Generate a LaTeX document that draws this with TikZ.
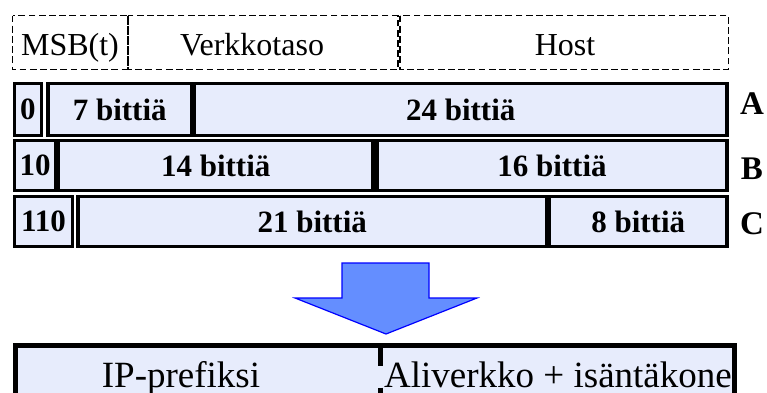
\documentclass[tikz,border=0pt]{standalone}
\usepackage{fontspec}
\setmainfont{Liberation Serif}
\definecolor{cellblue}{RGB}{231,236,252}
\definecolor{arrowblue}{RGB}{100,142,255}
\def\picw{767}
\def\pich{392}
\tikzset{
  cell/.style={draw=black,line width=1.6pt,fill=cellblue},
  field/.style={draw=black,line width=0.9pt,dash pattern=on 3.4pt off 1.7pt},
  bits/.style={font=\fontsize{15.5}{18}\selectfont\bfseries},
  plain/.style={font=\fontsize{16}{19}\selectfont},
  bigtext/.style={font=\fontsize{18.5}{22}\selectfont},
  klass/.style={font=\fontsize{16.5}{19}\selectfont\bfseries},
}
\begin{document}
\begin{tikzpicture}[x=0.5pt,y=-0.5pt]
\useasboundingbox (0,0) rectangle (\picw,\pich);
\clip (0,0) rectangle (\picw,\pich);

%dashed field names
\foreach \xa/\xb/\tx/\txt/\nm in {12.5/128/70/MSB(t)/msb, 128/398/252/Verkkotaso/net, 400/728.5/565/Host/host}{
   \draw[field] (\xa,15.5) rectangle (\xb,69.5);
   \node[plain,anchor=base] (\nm) at (\tx,55) {\txt};
}

%address classes A, B and C
\foreach \xa/\xb/\ya/\yb/\txt/\nm in {
   14.5/41.5/83.5/135.5/0/a0, 48/191.5/83.5/135.5/7 bittiä/a1, 194.5/727/83.5/135.5/24 bittiä/a2,
   14.5/55.5/140.5/190.5/10/b0, 58.5/373/140.5/190.5/14 bittiä/b1, 377/727/140.5/190.5/16 bittiä/b2,
   14.5/72.5/196.5/246.5/110/c0, 78/546.5/196.5/246.5/21 bittiä/c1, 549.5/727/196.5/246.5/8 bittiä/c2}{
   \draw[cell] (\xa,\ya) rectangle (\xb,\yb);
   \node[bits] (\nm) at ({(\xa+\xb)/2},{(\ya+\yb)/2}) {\txt};
}

\foreach \y/\txt in {104/A, 169/B, 224/C}{
   \node[klass] (class\txt) at (752,\y) {\txt};
}

%block arrow
\draw[fill=arrowblue,draw=blue,line width=0.6pt]
   (342,263) -- (429,263) -- (429,298) -- (477,298) -- (386,334) -- (295,298) -- (342,298) -- cycle;

%IP prefix and the rest
\draw[fill=cellblue,draw=black,line width=2.5pt] (15.5,345.5) rectangle (734.5,430);
\draw[line width=2.5pt,dash pattern=on 10pt off 11pt] (380,345.5) -- (380,430);
\node[bigtext,anchor=base] (prefix) at (181,387) {IP-prefiksi};
\node[bigtext,anchor=base] (subnet) at (558,387) {Aliverkko + isäntäkone};

\end{tikzpicture}
\end{document}
